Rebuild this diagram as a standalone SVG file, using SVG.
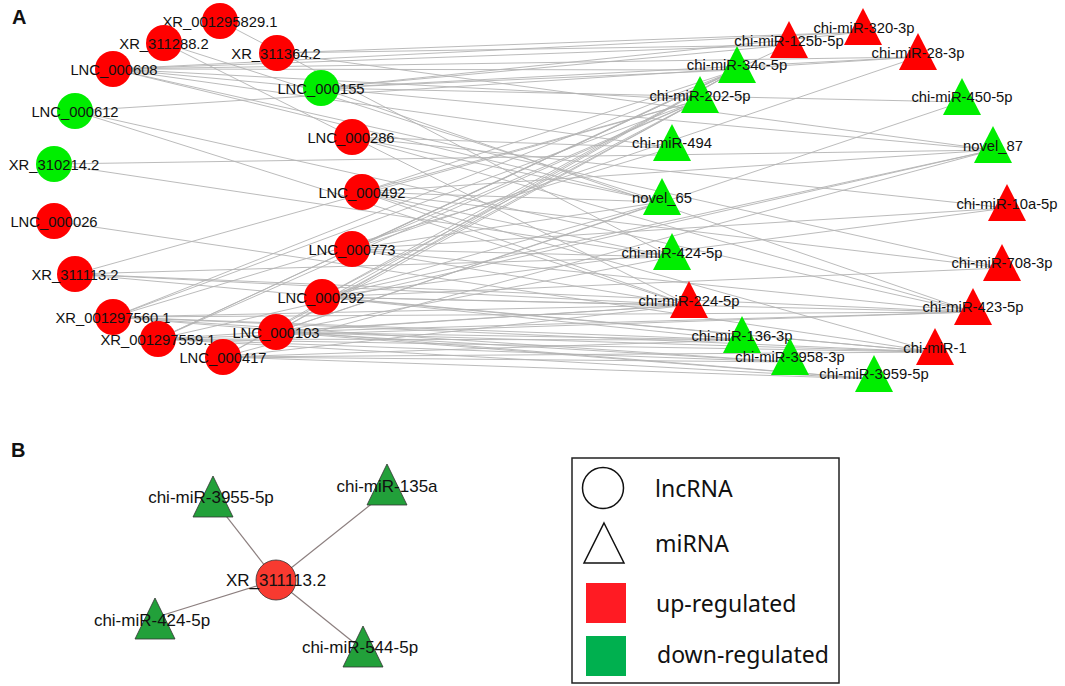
<svg xmlns="http://www.w3.org/2000/svg" xmlns:xlink="http://www.w3.org/1999/xlink" width="1065" height="686" viewBox="0 0 1065 686">
<defs>
<style>
.e{stroke:#b3b3b3;stroke-width:0.9;fill:none}
.eb{stroke:#8c7f7f;stroke-width:1.2}
.lab{font-family:"Liberation Sans",Arial,sans-serif;font-size:14.8px;fill:#111;text-anchor:middle}
.labB{font-family:"Liberation Sans",Arial,sans-serif;font-size:17px;fill:#111;text-anchor:middle}
.up{fill:#ff0000}
.dn{fill:#00ee00}
.upB{fill:#f83a30;stroke:#333;stroke-width:0.8}
.dnB{fill:#22a03a;stroke:#333;stroke-width:0.8}
.panel{font-family:"Liberation Sans",Arial,sans-serif;font-size:20px;font-weight:bold;fill:#111}
.leg{font-family:"Noto Sans","Liberation Sans",sans-serif;font-size:23px;fill:#111}
</style>
<path id="tri" d="M0,0 L19,37 L-19,37Z"/>
<path id="triB" d="M0,0 L20,41 L-20,41Z"/>
</defs>
<rect width="1065" height="686" fill="#fff"/>
<text class="panel" x="12" y="24">A</text>
<text class="panel" x="11" y="457">B</text>

<g id="connectors">
<line class="e" x1="220" y1="21" x2="672" y2="257"/>
<line class="e" x1="164" y1="43" x2="689" y2="305"/>
<line class="e" x1="164" y1="43" x2="662" y2="202"/>
<line class="e" x1="277" y1="53" x2="863" y2="32"/>
<line class="e" x1="277" y1="53" x2="789" y2="45"/>
<line class="e" x1="277" y1="53" x2="993" y2="150"/>
<line class="e" x1="113" y1="69" x2="863" y2="32"/>
<line class="e" x1="113" y1="69" x2="789" y2="45"/>
<line class="e" x1="113" y1="69" x2="918" y2="57"/>
<line class="e" x1="113" y1="69" x2="737" y2="70"/>
<line class="e" x1="113" y1="69" x2="700" y2="100"/>
<line class="e" x1="113" y1="69" x2="993" y2="150"/>
<line class="e" x1="113" y1="69" x2="672" y2="148"/>
<line class="e" x1="113" y1="69" x2="662" y2="202"/>
<line class="e" x1="113" y1="69" x2="1002" y2="268"/>
<line class="e" x1="321" y1="88" x2="863" y2="32"/>
<line class="e" x1="321" y1="88" x2="789" y2="45"/>
<line class="e" x1="321" y1="88" x2="918" y2="57"/>
<line class="e" x1="321" y1="88" x2="737" y2="70"/>
<line class="e" x1="321" y1="88" x2="962" y2="102"/>
<line class="e" x1="321" y1="88" x2="973" y2="312"/>
<line class="e" x1="75" y1="111" x2="918" y2="57"/>
<line class="e" x1="75" y1="111" x2="689" y2="305"/>
<line class="e" x1="75" y1="111" x2="973" y2="312"/>
<line class="e" x1="54" y1="164" x2="993" y2="150"/>
<line class="e" x1="54" y1="164" x2="672" y2="257"/>
<line class="e" x1="352" y1="137" x2="672" y2="148"/>
<line class="e" x1="352" y1="137" x2="662" y2="202"/>
<line class="e" x1="352" y1="137" x2="973" y2="312"/>
<line class="e" x1="352" y1="137" x2="1007" y2="208"/>
<line class="e" x1="362" y1="192" x2="700" y2="100"/>
<line class="e" x1="362" y1="192" x2="737" y2="70"/>
<line class="e" x1="362" y1="192" x2="662" y2="202"/>
<line class="e" x1="362" y1="192" x2="672" y2="257"/>
<line class="e" x1="362" y1="192" x2="689" y2="305"/>
<line class="e" x1="362" y1="192" x2="935" y2="352"/>
<line class="e" x1="362" y1="192" x2="1002" y2="268"/>
<line class="e" x1="362" y1="192" x2="993" y2="150"/>
<line class="e" x1="54" y1="221" x2="935" y2="352"/>
<line class="e" x1="75" y1="274" x2="700" y2="100"/>
<line class="e" x1="75" y1="274" x2="672" y2="257"/>
<line class="e" x1="75" y1="274" x2="689" y2="305"/>
<line class="e" x1="75" y1="274" x2="973" y2="312"/>
<line class="e" x1="75" y1="274" x2="935" y2="352"/>
<line class="e" x1="352" y1="249" x2="700" y2="100"/>
<line class="e" x1="352" y1="249" x2="737" y2="70"/>
<line class="e" x1="352" y1="249" x2="662" y2="202"/>
<line class="e" x1="352" y1="249" x2="672" y2="257"/>
<line class="e" x1="352" y1="249" x2="689" y2="305"/>
<line class="e" x1="352" y1="249" x2="973" y2="312"/>
<line class="e" x1="352" y1="249" x2="1007" y2="208"/>
<line class="e" x1="352" y1="249" x2="918" y2="57"/>
<line class="e" x1="322" y1="297" x2="700" y2="100"/>
<line class="e" x1="322" y1="297" x2="737" y2="70"/>
<line class="e" x1="322" y1="297" x2="993" y2="150"/>
<line class="e" x1="322" y1="297" x2="1007" y2="208"/>
<line class="e" x1="322" y1="297" x2="1002" y2="268"/>
<line class="e" x1="322" y1="297" x2="689" y2="305"/>
<line class="e" x1="322" y1="297" x2="973" y2="312"/>
<line class="e" x1="322" y1="297" x2="742" y2="340"/>
<line class="e" x1="322" y1="297" x2="935" y2="352"/>
<line class="e" x1="322" y1="297" x2="662" y2="202"/>
<line class="e" x1="113" y1="317" x2="737" y2="70"/>
<line class="e" x1="113" y1="317" x2="700" y2="100"/>
<line class="e" x1="113" y1="317" x2="672" y2="148"/>
<line class="e" x1="113" y1="317" x2="689" y2="305"/>
<line class="e" x1="113" y1="317" x2="973" y2="312"/>
<line class="e" x1="113" y1="317" x2="742" y2="340"/>
<line class="e" x1="113" y1="317" x2="935" y2="352"/>
<line class="e" x1="113" y1="317" x2="790" y2="362"/>
<line class="e" x1="113" y1="317" x2="874" y2="379"/>
<line class="e" x1="158" y1="339" x2="737" y2="70"/>
<line class="e" x1="158" y1="339" x2="700" y2="100"/>
<line class="e" x1="158" y1="339" x2="789" y2="45"/>
<line class="e" x1="158" y1="339" x2="689" y2="305"/>
<line class="e" x1="158" y1="339" x2="742" y2="340"/>
<line class="e" x1="158" y1="339" x2="935" y2="352"/>
<line class="e" x1="158" y1="339" x2="790" y2="362"/>
<line class="e" x1="158" y1="339" x2="874" y2="379"/>
<line class="e" x1="158" y1="339" x2="973" y2="312"/>
<line class="e" x1="158" y1="339" x2="993" y2="150"/>
<line class="e" x1="276" y1="332" x2="737" y2="70"/>
<line class="e" x1="276" y1="332" x2="700" y2="100"/>
<line class="e" x1="276" y1="332" x2="689" y2="305"/>
<line class="e" x1="276" y1="332" x2="973" y2="312"/>
<line class="e" x1="276" y1="332" x2="742" y2="340"/>
<line class="e" x1="276" y1="332" x2="935" y2="352"/>
<line class="e" x1="276" y1="332" x2="790" y2="362"/>
<line class="e" x1="276" y1="332" x2="874" y2="379"/>
<line class="e" x1="276" y1="332" x2="662" y2="202"/>
<line class="e" x1="276" y1="332" x2="672" y2="257"/>
<line class="e" x1="276" y1="332" x2="962" y2="102"/>
<line class="e" x1="223" y1="357" x2="700" y2="100"/>
<line class="e" x1="223" y1="357" x2="737" y2="70"/>
<line class="e" x1="223" y1="357" x2="689" y2="305"/>
<line class="e" x1="223" y1="357" x2="742" y2="340"/>
<line class="e" x1="223" y1="357" x2="790" y2="362"/>
<line class="e" x1="223" y1="357" x2="874" y2="379"/>
<line class="e" x1="223" y1="357" x2="935" y2="352"/>
<line class="e" x1="223" y1="357" x2="993" y2="150"/>
<line class="eb" x1="276" y1="580" x2="216" y2="503"/>
<line class="eb" x1="276" y1="580" x2="384" y2="494"/>
<line class="eb" x1="276" y1="580" x2="160" y2="616"/>
<line class="eb" x1="276" y1="580" x2="358" y2="646"/>
</g>

<g id="XR_001295829.1"><circle class="up" cx="220" cy="21" r="18"/><text class="lab" x="220" y="27">XR_001295829.1</text></g>
<g id="XR_311288.2"><circle class="up" cx="164" cy="43" r="18"/><text class="lab" x="164" y="49">XR_311288.2</text></g>
<g id="XR_311364.2"><circle class="up" cx="277" cy="53" r="18"/><text class="lab" x="276" y="59">XR_311364.2</text></g>
<g id="LNC_000608"><circle class="up" cx="113" cy="69" r="18"/><text class="lab" x="114" y="75">LNC_000608</text></g>
<g id="LNC_000155"><circle class="dn" cx="321" cy="88" r="18"/><text class="lab" x="321" y="94">LNC_000155</text></g>
<g id="LNC_000612"><circle class="dn" cx="75" cy="111" r="18"/><text class="lab" x="75" y="117">LNC_000612</text></g>
<g id="XR_310214.2"><circle class="dn" cx="54" cy="164" r="18"/><text class="lab" x="54" y="170">XR_310214.2</text></g>
<g id="LNC_000286"><circle class="up" cx="352" cy="137" r="18"/><text class="lab" x="351" y="143">LNC_000286</text></g>
<g id="LNC_000492"><circle class="up" cx="362" cy="192" r="18"/><text class="lab" x="362" y="198">LNC_000492</text></g>
<g id="LNC_000026"><circle class="up" cx="54" cy="221" r="18"/><text class="lab" x="54" y="227">LNC_000026</text></g>
<g id="XR_311113.2"><circle class="up" cx="75" cy="274" r="18"/><text class="lab" x="75" y="280">XR_311113.2</text></g>
<g id="LNC_000773"><circle class="up" cx="352" cy="249" r="18"/><text class="lab" x="352" y="255">LNC_000773</text></g>
<g id="LNC_000292"><circle class="up" cx="322" cy="297" r="18"/><text class="lab" x="321" y="303">LNC_000292</text></g>
<g id="XR_001297560.1"><circle class="up" cx="113" cy="317" r="18"/><text class="lab" x="113" y="323">XR_001297560.1</text></g>
<g id="XR_001297559.1"><circle class="up" cx="158" cy="339" r="18"/><text class="lab" x="158" y="345">XR_001297559.1</text></g>
<g id="LNC_000103"><circle class="up" cx="276" cy="332" r="18"/><text class="lab" x="276" y="338">LNC_000103</text></g>
<g id="LNC_000417"><circle class="up" cx="223" cy="357" r="18"/><text class="lab" x="223" y="363">LNC_000417</text></g>

<g id="chi-miR-320-3p"><use xlink:href="#tri" class="up" x="863" y="8"/><text class="lab" x="864" y="33">chi-miR-320-3p</text></g>
<g id="chi-miR-125b-5p"><use xlink:href="#tri" class="up" x="789" y="21"/><text class="lab" x="789" y="46">chi-miR-125b-5p</text></g>
<g id="chi-miR-28-3p"><use xlink:href="#tri" class="up" x="918" y="33"/><text class="lab" x="918" y="58">chi-miR-28-3p</text></g>
<g id="chi-miR-34c-5p"><use xlink:href="#tri" class="dn" x="737" y="46"/><text class="lab" x="737" y="70">chi-miR-34c-5p</text></g>
<g id="chi-miR-202-5p"><use xlink:href="#tri" class="dn" x="700" y="76"/><text class="lab" x="700" y="101">chi-miR-202-5p</text></g>
<g id="chi-miR-450-5p"><use xlink:href="#tri" class="dn" x="962" y="78"/><text class="lab" x="962" y="102">chi-miR-450-5p</text></g>
<g id="chi-miR-494"><use xlink:href="#tri" class="dn" x="672" y="124"/><text class="lab" x="672" y="148">chi-miR-494</text></g>
<g id="novel_87"><use xlink:href="#tri" class="dn" x="993" y="126"/><text class="lab" x="993" y="151">novel_87</text></g>
<g id="novel_65"><use xlink:href="#tri" class="dn" x="662" y="178"/><text class="lab" x="662" y="203">novel_65</text></g>
<g id="chi-miR-10a-5p"><use xlink:href="#tri" class="up" x="1007" y="184"/><text class="lab" x="1007" y="209">chi-miR-10a-5p</text></g>
<g id="chi-miR-424-5p"><use xlink:href="#tri" class="dn" x="672" y="233"/><text class="lab" x="672" y="258">chi-miR-424-5p</text></g>
<g id="chi-miR-708-3p"><use xlink:href="#tri" class="up" x="1002" y="244"/><text class="lab" x="1002" y="268">chi-miR-708-3p</text></g>
<g id="chi-miR-224-5p"><use xlink:href="#tri" class="up" x="689" y="281"/><text class="lab" x="689" y="306">chi-miR-224-5p</text></g>
<g id="chi-miR-423-5p"><use xlink:href="#tri" class="up" x="973" y="288"/><text class="lab" x="973" y="312">chi-miR-423-5p</text></g>
<g id="chi-miR-136-3p"><use xlink:href="#tri" class="dn" x="742" y="316"/><text class="lab" x="742" y="341">chi-miR-136-3p</text></g>
<g id="chi-miR-1"><use xlink:href="#tri" class="up" x="935" y="328"/><text class="lab" x="935" y="353">chi-miR-1</text></g>
<g id="chi-miR-3958-3p"><use xlink:href="#tri" class="dn" x="790" y="338"/><text class="lab" x="790" y="362">chi-miR-3958-3p</text></g>
<g id="chi-miR-3959-5p"><use xlink:href="#tri" class="dn" x="874" y="355"/><text class="lab" x="874" y="379">chi-miR-3959-5p</text></g>

<g id="B_XR_311113.2"><circle class="upB" cx="276" cy="580" r="20"/><text class="labB" x="276" y="586">XR_311113.2</text></g>
<g id="B_chi-miR-3955-5p"><use xlink:href="#triB" class="dnB" x="213" y="476"/><text class="labB" x="211" y="503">chi-miR-3955-5p</text></g>
<g id="B_chi-miR-135a"><use xlink:href="#triB" class="dnB" x="387" y="464"/><text class="labB" x="387" y="492">chi-miR-135a</text></g>
<g id="B_chi-miR-424-5p"><use xlink:href="#triB" class="dnB" x="155" y="598"/><text class="labB" x="152" y="626">chi-miR-424-5p</text></g>
<g id="B_chi-miR-544-5p"><use xlink:href="#triB" class="dnB" x="363" y="626"/><text class="labB" x="360" y="653">chi-miR-544-5p</text></g>

<g id="legend">
<rect x="572" y="458" width="267" height="225" fill="#fff" stroke="#222" stroke-width="1.5"/>
<circle cx="603" cy="488" r="20.5" fill="none" stroke="#111" stroke-width="1.5"/>
<text class="leg" x="655" y="497">lncRNA</text>
<path d="M604,523 L624,563 L584,563Z" fill="none" stroke="#111" stroke-width="1.5"/>
<text class="leg" x="655" y="552">miRNA</text>
<rect x="586" y="583" width="40" height="40" fill="#ff1b23"/>
<text class="leg" x="656" y="612">up-regulated</text>
<rect x="586" y="636" width="40" height="40" fill="#00b04f"/>
<text class="leg" x="657" y="663">down-regulated</text>
</g>
</svg>
